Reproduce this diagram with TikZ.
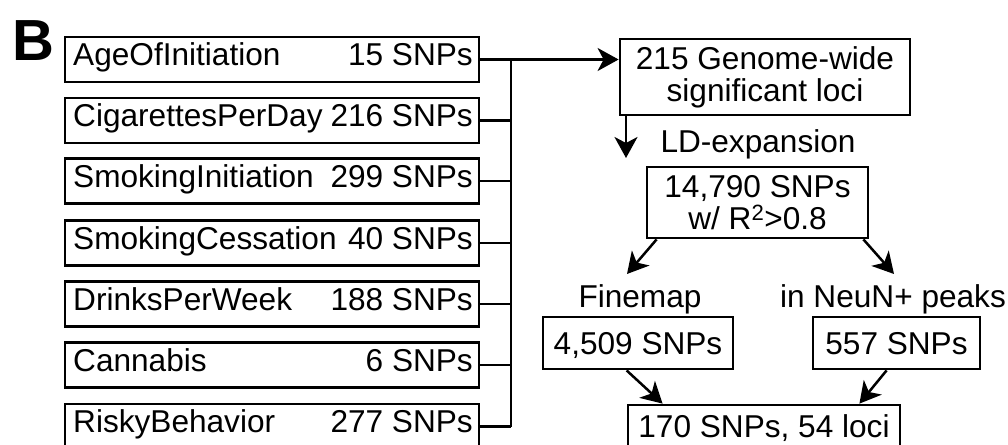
\documentclass[tikz,border=0pt]{standalone}
\usepackage{fontspec}
\setmainfont{Liberation Sans}
\usetikzlibrary{arrows.meta}
\tikzset{
  trait/.style={draw, line width=2.8pt, minimum width=414pt, minimum height=45pt, inner sep=0pt},
  lbl/.style={inner sep=0pt, anchor=base west, font=\fontsize{31.6}{32}\selectfont},
  num/.style={inner sep=0pt, anchor=base east, font=\fontsize{31.6}{32}\selectfont},
  flowbox/.style={draw, line width=2.8pt, inner sep=0pt, align=center, font=\fontsize{31.6}{32}\selectfont},
  onebox/.style={flowbox, text height=22.5pt, text depth=0pt},
  plain/.style={inner sep=0pt, anchor=base, font=\fontsize{31.6}{32}\selectfont},
  conn/.style={line width=2.5pt},
  arr/.style={line width=2.5pt, -{Stealth[length=21pt,width=23pt,inset=6pt]}},
}
\begin{document}
\begin{tikzpicture}[x=1pt,y=-1pt]
\useasboundingbox (0,0) rectangle (1008,444);
\node[inner sep=0pt, anchor=base, font=\fontsize{58}{60}\selectfont\bfseries] (B) at (33,60) {B};
% trait boxes
\foreach \i/\c/\name/\n in {1/59.5/AgeOfInitiation/15,2/120.5/CigarettesPerDay/216,3/181/SmokingInitiation/299,4/243/SmokingCessation/40,5/304/DrinksPerWeek/188,6/365/Cannabis/6,7/426.5/RiskyBehavior/277}{
  \node[trait] (b\i) at (272,\c) {};
  \node[lbl] (l\i) at (73,\c+6) {\name};
  \node[num] (n\i) at (473,\c+6) {\n{} SNPs};
}
% bus
\coordinate (bt) at (511,59.5);
\coordinate (bb) at (511,426.5);
\draw[conn] (bt) -- (bb);
\foreach \i in {2,...,7}{\draw[conn] (b\i.east) -- (b\i.east -| bt);}
% flow
\node[flowbox, minimum width=290pt, minimum height=76pt] (g215) at (765,77) {215 Genome-wide\\significant loci};
\draw[arr] (b1.east) -- (g215.west |- b1.east);
\coordinate (ldtip) at (626,158);
\draw[arr] (g215.south -| ldtip) -- (ldtip);
\node[plain] (ld) at (758,152) {LD-expansion};
\node[flowbox, minimum width=221pt, minimum height=71pt] (snp) at (757.5,202.5) {14,790 SNPs\\w/ R\textsuperscript{2}>0.8};
\coordinate (fl) at (627,274);
\coordinate (fr) at (894,274);
\draw[arr] ([xshift=11pt]snp.south west) -- (fl);
\draw[arr] ([xshift=-6pt]snp.south east) -- (fr);
\node[plain] (fm) at (640,307) {Finemap};
\node[plain] (nn) at (893,307) {in NeuN+ peaks};
\node[onebox, minimum width=190pt, minimum height=52pt] (fmb) at (638,343) {4,509 SNPs};
\node[onebox, minimum width=167pt, minimum height=52pt] (nnb) at (896.5,343) {557 SNPs};
\node[onebox, text depth=10pt, minimum width=272pt, minimum height=52pt] (fin) at (764,431) {170 SNPs, 54 loci};
\draw[arr] ([xshift=85pt]fmb.south west) -- ([xshift=36pt]fin.north west);
\draw[arr] ([xshift=75pt]nnb.south west) -- ([xshift=-42pt]fin.north east);
\end{tikzpicture}
\end{document}
